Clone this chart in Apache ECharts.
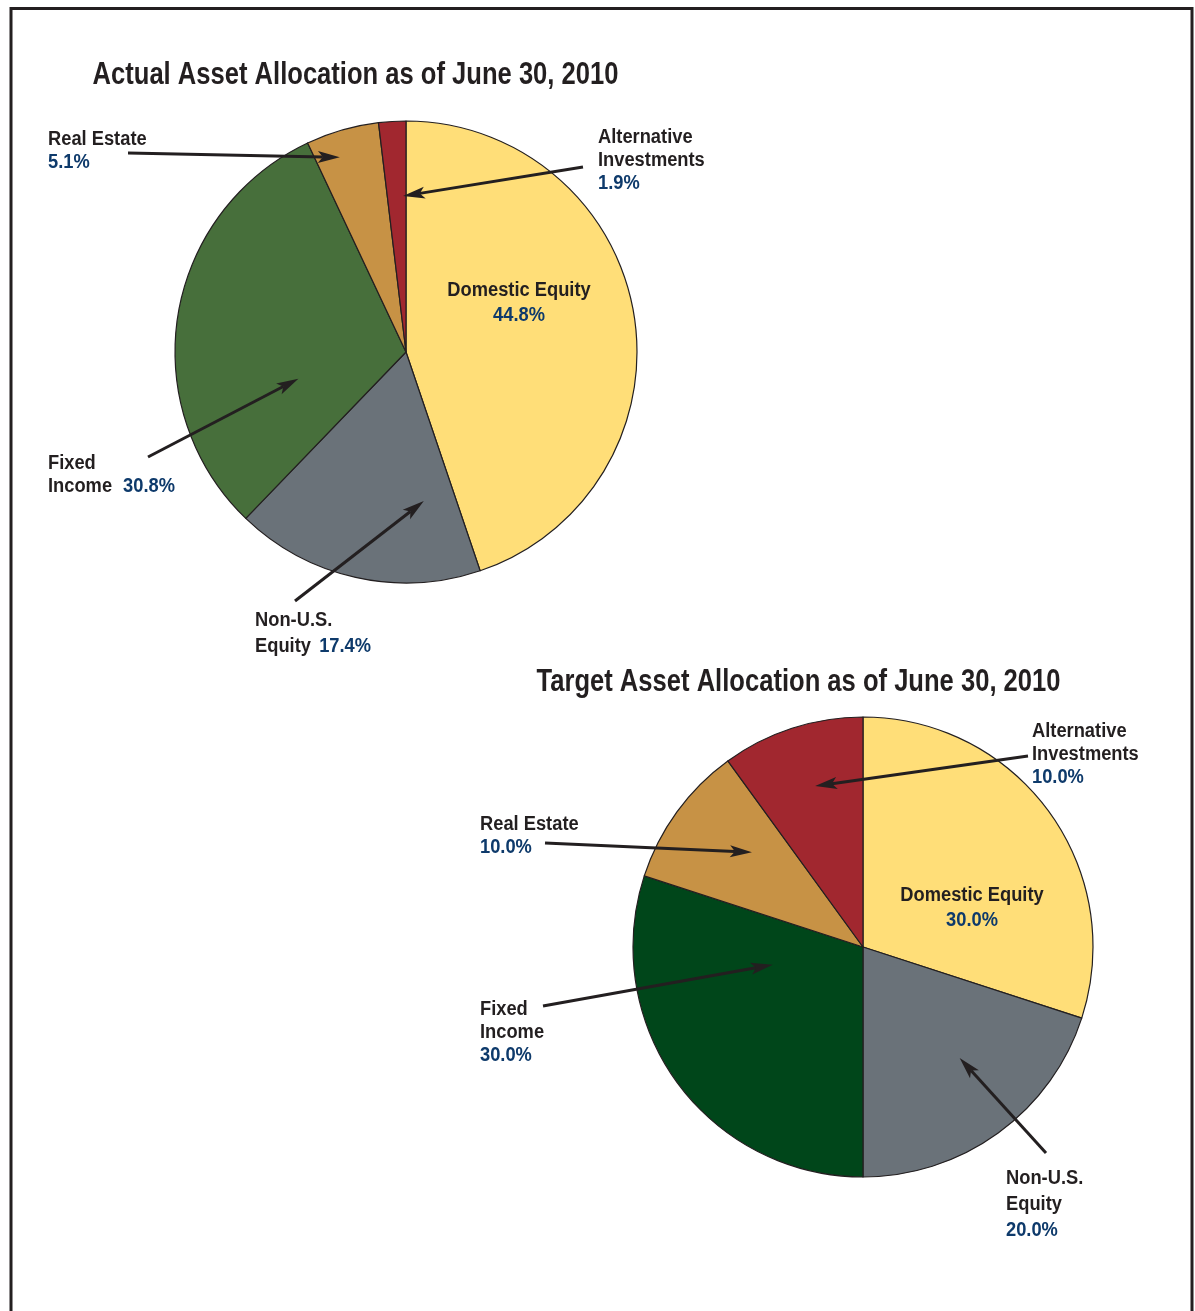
<!DOCTYPE html>
<html>
<head>
<meta charset="utf-8">
<title>Asset Allocation</title>
<script src="https://cdn.jsdelivr.net/npm/echarts@6/dist/echarts.min.js"></script>
<style>
  html, body { margin: 0; padding: 0; background: #ffffff; }
  #chart { width: 1195px; height: 1311px; }
</style>
</head>
<body>
<div id="chart"></div>
<script>
// ---- data ----
const categories = ['Domestic Equity', 'Non-U.S. Equity', 'Fixed Income', 'Real Estate', 'Alternative Investments'];
const actualValues = [44.8, 17.4, 30.8, 5.1, 1.9];
const targetValues = [30.0, 20.0, 30.0, 10.0, 10.0];
const chartTitles = ['Actual Asset Allocation as of June 30, 2010', 'Target Asset Allocation as of June 30, 2010'];

// ---- styling ----
// Bold sans, squeezed horizontally to get a condensed face.
const FONT = "'Liberation Sans', Arial, Helvetica, sans-serif";
const TITLE_SQUEEZE = 0.825;
const LABEL_SQUEEZE = 0.915;
const INK = '#231F20';
const NAVY = '#0E3A6B';
const sliceColors = ['#FFDE78', '#6A7279', '#476F3B', '#C79245', '#A1272F'];
const targetGreen = '#00461A';

const pct = v => v.toFixed(1) + '%';

// Each pie: geometry, colours and where its callouts sit.
// Callout: idx = slice, tail = start of arrow, frac/rf = arrow tip position
// within the slice (fraction of its sweep, fraction of radius), text layout.
const pies = [
  {
    title: chartTitles[0], titlePos: [355.5, 75.5],
    values: actualValues, center: [406, 352], radius: 231,
    colors: sliceColors,
    callouts: [
      { idx: 0, inside: true, pos: [519, 278], lines: v => ['{n|Domestic Equity}', '{v|' + v + '}'] },
      { idx: 3, tail: [128, 153], frac: 0.35, rf: 0.89, pos: [48, 128], lines: v => ['{n|Real Estate}', '{v|' + v + '}'] },
      { idx: 4, tail: [583, 167], frac: 0.84, rf: 0.675, pos: [598, 126], lines: v => ['{n|Alternative}', '{n|Investments}', '{v|' + v + '}'] },
      { idx: 2, tail: [148, 457], frac: 0.29, rf: 0.48, pos: [48, 452], lines: v => ['{n|Fixed}', '{n|Income}{g|}{v|' + v + '}'] },
      { idx: 1, tail: [295, 601], frac: 0.19, rf: 0.65, pos: [255, 607], lines: v => ['{n|Non-U.S.}', '{n|Equity}{h|}{v|' + v + '}'], lh: 26 }
    ]
  },
  {
    title: chartTitles[1], titlePos: [798.5, 682.5],
    values: targetValues, center: [863, 947], radius: 230,
    colors: [sliceColors[0], sliceColors[1], targetGreen, sliceColors[3], sliceColors[4]],
    callouts: [
      { idx: 0, inside: true, pos: [972, 883], lines: v => ['{n|Domestic Equity}', '{v|' + v + '}'] },
      { idx: 4, tail: [1028, 756], frac: 0.54, rf: 0.73, pos: [1032, 720], lines: v => ['{n|Alternative}', '{n|Investments}', '{v|' + v + '}'] },
      { idx: 3, tail: [545, 843], frac: 0.625, rf: 0.635, pos: [480, 813], lines: v => ['{n|Real Estate}', '{v|' + v + '}'] },
      { idx: 2, tail: [543, 1006], frac: 0.73, rf: 0.40, pos: [480, 998], lines: v => ['{n|Fixed}', '{n|Income}', '{v|' + v + '}'] },
      { idx: 1, tail: [1046, 1153], frac: 0.43, rf: 0.64, pos: [1006, 1165], lines: v => ['{n|Non-U.S.}', '{n|Equity}', '{v|' + v + '}'], lh: 26 }
    ]
  }
];

// point inside a slice, measured clockwise from 12 o'clock
function slicePoint(pie, idx, frac, rf) {
  const total = pie.values.reduce((a, b) => a + b, 0);
  let before = 0;
  for (let i = 0; i < idx; i++) before += pie.values[i];
  const deg = (before + frac * pie.values[idx]) / total * 360;
  const a = deg * Math.PI / 180;
  return [pie.center[0] + rf * pie.radius * Math.sin(a), pie.center[1] - rf * pie.radius * Math.cos(a)];
}

function arrow(tail, tip) {
  const dx = tip[0] - tail[0], dy = tip[1] - tail[1];
  const len = Math.hypot(dx, dy);
  const ux = dx / len, uy = dy / len;
  const nx = -uy, ny = ux;
  const L = 22, W = 6, notch = 5;
  const bx = tip[0] - ux * L, by = tip[1] - uy * L;
  return [
    { type: 'line', silent: true, shape: { x1: tail[0], y1: tail[1], x2: bx + ux * notch, y2: by + uy * notch },
      style: { stroke: INK, lineWidth: 3 } },
    { type: 'polygon', silent: true,
      shape: { points: [tip, [bx + nx * W, by + ny * W], [bx + ux * notch, by + uy * notch], [bx - nx * W, by - ny * W]] },
      style: { fill: INK } }
  ];
}

function richStyles(lh) {
  const base = { fontFamily: FONT, fontWeight: 'bold', fontSize: 20, lineHeight: lh };
  return {
    n: Object.assign({ fill: INK }, base),
    v: Object.assign({ fill: NAVY }, base),
    g: Object.assign({ width: 12 }, base),
    h: Object.assign({ width: 9 }, base)
  };
}

const graphics = [];
// page frame
graphics.push({
  type: 'polyline', silent: true,
  shape: { points: [[11, 1320], [11, 8.5], [1192, 8.5], [1192, 1320]] },
  style: { stroke: INK, lineWidth: 3, fill: null }
});

const series = [];
pies.forEach(pie => {
  series.push({
    type: 'pie',
    center: pie.center,
    radius: pie.radius,
    startAngle: 90,
    clockwise: true,
    silent: true,
    animation: false,
    label: { show: false },
    labelLine: { show: false },
    itemStyle: { borderColor: INK, borderWidth: 1.2 },
    emphasis: { disabled: true },
    data: categories.map((name, i) => ({ name, value: pie.values[i], itemStyle: { color: pie.colors[i] } }))
  });

  graphics.push({
    type: 'text', silent: true,
    x: pie.titlePos[0], y: pie.titlePos[1], scaleX: TITLE_SQUEEZE,
    style: {
      text: pie.title, x: 0, y: 0,
      align: 'center', verticalAlign: 'middle',
      fontFamily: FONT, fontWeight: 'bold', fontSize: 31, fill: INK
    }
  });

  pie.callouts.forEach(c => {
    const lh = c.lh || 23;
    graphics.push({
      type: 'text', silent: true, z: 10,
      x: c.pos[0], y: c.pos[1], scaleX: LABEL_SQUEEZE,
      style: {
        text: c.lines(pct(pie.values[c.idx])).join('\n'),
        x: 0, y: 0,
        align: c.inside ? 'center' : 'left', verticalAlign: 'top',
        rich: richStyles(c.inside ? 25 : lh)
      }
    });
    if (!c.inside) {
      arrow(c.tail, slicePoint(pie, c.idx, c.frac, c.rf)).forEach(g => { g.z = 20; graphics.push(g); });
    }
  });
});

const chart = echarts.init(document.getElementById('chart'), null, { renderer: 'canvas' });
chart.setOption({
  backgroundColor: '#ffffff',
  animation: false,
  series: series,
  graphic: { elements: graphics }
});
</script>
</body>
</html>
